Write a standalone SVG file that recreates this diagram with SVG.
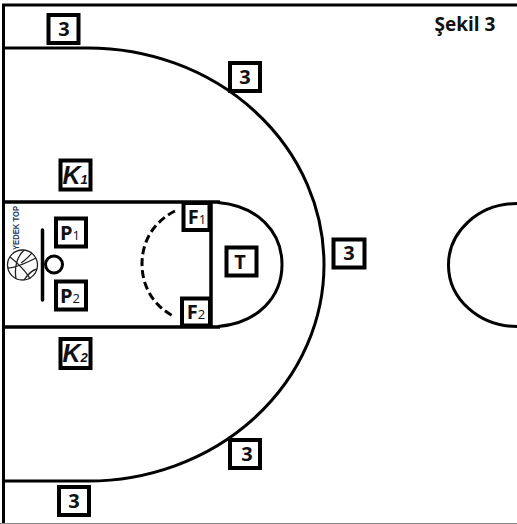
<svg xmlns="http://www.w3.org/2000/svg" width="517" height="524" viewBox="0 0 517 524">
<style>
.l{fill:none;stroke:#000;stroke-width:3.5}
.b{fill:#fff;stroke:#000;stroke-width:4}
.t{font-family:"Open Sans","DejaVu Sans",sans-serif;font-weight:700;fill:#111;text-anchor:middle}
.s{font-size:20px}
.k{font-family:"Liberation Sans",Arial,sans-serif;font-style:italic;font-weight:700;font-size:25px;fill:#111}
.u{font-weight:400;font-size:13px}
.ku{font-size:13px}
</style>
<rect width="517" height="524" fill="#fff"/>
<g id="connectors">
<path class="l" d="M3.500 524V5H517" style="stroke-width:3"/>
<path d="M0 523.500H517" stroke="#888" stroke-width="1"/>
<path class="l" d="M3 48H88A236 216.500 0 0 1 88 481H3" style="stroke-width:3"/>
<path class="l" d="M3 202H220M3 327H220M211 202V327"/>
<path class="l" d="M218 202.500C258 206 282 232 282 264.500C282 297 258 323 218 326.500" style="stroke-width:3"/>
<path class="l" d="M175 211C153 222 142 242 142 264C142 286 153 306 175 317" stroke-dasharray="8 4" style="stroke-width:3"/>
<path class="l" d="M517 203.500A68 61 0 0 0 517 326.500" style="stroke-width:3"/>
</g>
<g id="hoop">
<path d="M42.500 230V300" fill="none" stroke="#000" stroke-width="3.500" stroke-linecap="round"/>
<circle cx="54" cy="264.500" r="8.500" fill="none" stroke="#000" stroke-width="3"/>
</g>
<g id="ball" fill="none" stroke="#222" stroke-width="1.300">
<circle cx="22.500" cy="265" r="15" fill="#fff"/>
<path d="M10 257C18 263 28 274 30 279M24 250C18 256 14 266 16 279M8 268C16 268 28 262 36 258M21 263C26 260 31 254 32 253M24 280C28 274 33 270 37 269"/>
<text transform="translate(18.500 250) rotate(-90)" textLength="44" lengthAdjust="spacingAndGlyphs" style="font-family:'Liberation Sans',sans-serif;font-size:9.500px;font-weight:700;stroke:none;fill:#1f3864">YEDEK TOP</text>
</g>
<g id="k1"><rect class="b" x="60.500" y="160.500" width="30" height="29"/><text class="k" x="62.500" y="184">K<tspan class="ku">1</tspan></text></g>
<g id="k2"><rect class="b" x="60.500" y="339" width="30" height="29"/><text class="k" x="62.500" y="362">K<tspan class="ku">2</tspan></text></g>
<g id="p1"><rect class="b" x="56" y="218.500" width="30" height="28"/><text class="t s" x="70" y="240">P<tspan class="u">1</tspan></text></g>
<g id="p2"><rect class="b" x="56" y="281.500" width="30" height="28"/><text class="t s" x="70" y="303">P<tspan class="u">2</tspan></text></g>
<g id="f1"><rect class="b" x="183.500" y="203" width="26" height="27"/><text class="t s" x="197" y="224">F<tspan class="u">1</tspan></text></g>
<g id="f2"><rect class="b" x="182" y="298.500" width="28" height="27"/><text class="t s" x="196" y="319">F<tspan class="u">2</tspan></text></g>
<g id="t"><rect class="b" x="226.500" y="247.500" width="30" height="28"/><text class="t s" x="240" y="269">T</text></g>
<g id="three-top"><rect class="b" x="48.500" y="15" width="30" height="28"/><text class="t s" x="64" y="36">3</text></g>
<g id="three-upper"><rect class="b" x="230" y="63" width="30" height="28"/><text class="t s" x="245" y="84">3</text></g>
<g id="three-right"><rect class="b" x="333.500" y="239.500" width="31" height="28"/><text class="t s" x="349" y="260">3</text></g>
<g id="three-lower"><rect class="b" x="230" y="440" width="30" height="28"/><text class="t s" x="247" y="461">3</text></g>
<g id="three-bottom"><rect class="b" x="59" y="487" width="30" height="28"/><text class="t s" x="74" y="508">3</text></g>
<text x="465" y="31" class="t" style="font-size:19px">Şekil 3</text>
</svg>
